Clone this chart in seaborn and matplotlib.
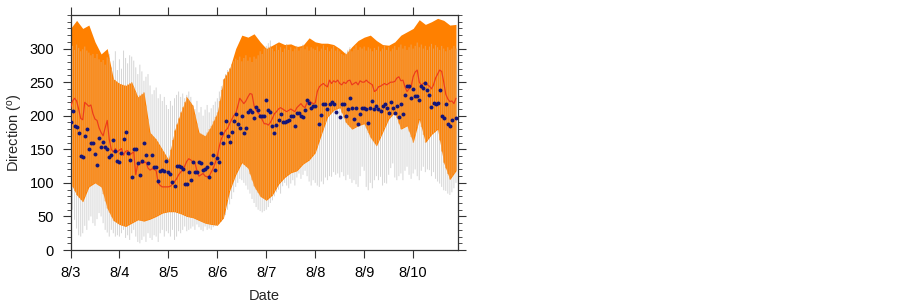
import numpy as np
import matplotlib
matplotlib.use("Agg")
import matplotlib.pyplot as plt
import seaborn as sns

nan = np.nan

# ---------------- data (hours since 8/3 00:00) ----------------
day_labels = ["8/3", "8/4", "8/5", "8/6", "8/7", "8/8", "8/9", "8/10"]
day_ticks = [0, 24, 48, 72, 96, 120, 144, 168]
y_ticks = [0, 50, 100, 150, 200, 250, 300]

hours = list(range(190))
band_hours = list(range(0, 190, 3))

# orange band (3-hourly)
band_hi = [330, 342, 330, 335, 310, 292, 300, 255, 248, 245,
           250, 228, 235, 175, 165, 150, 135, 178, 205, 228,
           215, 175, 170, 185, 205, 255, 270, 300, 320, 317,
           322, 310, 300, 305, 310, 306, 307, 303, 305, 316,
           310, 308, 308, 306, 300, 292, 303, 312, 317, 320,
           312, 306, 305, 310, 320, 325, 330, 343, 336, 340,
           345, 342, 335, 336]
band_lo = [100, 82, 72, 94, 100, 94, 62, 44, 38, 35,
           40, 45, 43, 46, 50, 55, 57, 57, 54, 50,
           48, 44, 40, 38, 37, 48, 88, 112, 130, 122,
           95, 80, 74, 82, 98, 108, 115, 118, 128, 134,
           145, 172, 198, 208, 212, 190, 180, 185, 188, 168,
           155, 175, 195, 205, 180, 185, 160, 195, 160, 172,
           180, 130, 105, 118]

# hourly spread (gray vertical lines)
spread_hi = [300, 304, 298, 306, 301, 296, 299, 303, 297, 294, 290, 292,
             286, 292, 284, 280, 283, 276, 287, 292, 272, 282, 296, 268,
             284, 270, 297, 286, 278, 290, 288, 282, 272, 262, 276, 266,
             252, 258, 262, 245, 232, 238, 242, 226, 232, 222, 228, 216,
             210, 222, 215, 226, 231, 236, 228, 233, 226, 231, 236, 228,
             216, 210, 222, 205, 213, 200, 209, 216, 205, 211, 216, 221,
             226, 236, 244, 254, 262, 268, 271, 276, 281, 285, 283, 288,
             281, 286, 290, 282, 287, 280, 288, 285, 290, 296, 292, 300,
             304, 308, 312, 300, 296, 305, 298, 302, 295, 300, 306, 298,
             302, 296, 300, 304, 297, 301, 306, 299, 303, 297, 302, 300,
             298, 303, 296, 300, 305, 298, 302, 296, 300, 304, 297, 300,
             296, 292, 290, 294, 298, 302, 296, 300, 305, 298, 302, 300,
             303, 297, 302, 300, 296, 301, 298, 303, 296, 300, 305, 298,
             302, 296, 300, 304, 298, 302, 306, 300, 304, 298, 302, 306,
             300, 304, 309, 302, 306, 300, 304, 298, 303, 307, 300, 305,
             302, 298, 304, 300, 296, 302, 298, 300, 304, 300]
spread_lo = [85, 60, 45, 32, 22, 20, 25, 36, 30, 44, 50, 40,
             36, 46, 55, 50, 40, 30, 26, 20, 30, 25, 20, 22,
             20, 25, 30, 18, 22, 15, 25, 30, 20, 12, 10, 15,
             20, 12, 25, 18, 15, 22, 20, 12, 25, 30, 20, 28,
             25, 20, 30, 15, 20, 28, 25, 30, 35, 28, 30, 32,
             35, 30, 38, 34, 30, 28, 35, 30, 32, 30, 34, 36,
             36, 40, 42, 46, 52, 60, 68, 76, 86, 94, 100, 106,
             104, 100, 96, 90, 84, 76, 70, 64, 60, 58, 56, 58,
             60, 64, 70, 74, 80, 86, 90, 84, 95, 100, 96, 92,
             99, 104, 96, 108, 114, 106, 112, 118, 110, 102, 96, 104,
             100, 96, 94, 102, 98, 108, 104, 110, 109, 116, 112, 114,
             108, 116, 110, 104, 112, 106, 100, 104, 98, 94, 110, 124,
             118, 94, 89, 100, 92, 104, 110, 104, 109, 96, 100, 99,
             112, 122, 129, 108, 104, 110, 114, 104, 118, 124, 112, 106,
             114, 120, 110, 104, 118, 124, 116, 120, 119, 110, 116, 106,
             102, 99, 94, 89, 88, 84, 82, 86, 92, 100]

# ensemble mean (red line)
mean_dir = [211, 222, 226, 222, 210, 196, 194, 220, 217, 214,
            216, 203, 195, 193, 182, 175, 170, 182, 193, 165,
            150, 146, 151, 146, 149, 151, 141, 147, 148, 141,
            144, 146, 112, 128, 131, 129, 130, 131, 122, 119,
            121, 120, 118, 100, 96, 94, 94, 94, 94, 95,
            98, 102, 106, 112, 116, 119, 125, 132, 136, 134,
            131, 130, 118, 110, 112, 114, 110, 109, 110, 116,
            122, 130, 140, 155, 166, 172, 178, 181, 188, 194,
            200, 203, 214, 226, 222, 218, 222, 228, 233, 232,
            215, 208, 204, 201, 194, 188, 188, 186, 190, 196,
            203, 206, 210, 212, 210, 208, 206, 208, 210, 208,
            206, 212, 215, 218, 214, 212, 220, 223, 220, 218,
            219, 236, 243, 246, 248, 245, 243, 253, 248, 252,
            250, 253, 248, 246, 250, 248, 252, 253, 246, 248,
            250, 246, 252, 250, 250, 253, 250, 248, 246, 236,
            238, 243, 244, 246, 248, 246, 248, 250, 250, 251,
            256, 258, 252, 253, 243, 236, 240, 243, 258, 265,
            268, 250, 246, 248, 250, 246, 244, 240, 246, 256,
            262, 268, 266, 250, 232, 225, 221, 222, 218, 226]

# observations (navy dots)
obs_dir = [190, 207, 185, 183, 174, 140, 138, 170, 180, 150,
           160, 160, 143, 127, 167, 154, 161, 154, 150, 138,
           141, 164, 147, 133, 131, 145, 165, 176, 145, 134,
           108, 150, 150, 130, 111, 133, 159, 141, 130, nan,
           141, 123, 123, 103, 117, 119, 117, 132, 116, 113,
           102, 95, 125, 125, 124, 121, 98, 99, 116, 104,
           131, 116, 116, 131, 129, 119, 120, 123, 108, 130,
           141, 119, 137, 131, 175, 160, 192, 170, 161, 176,
           192, 202, 187, 181, 200, 174, 182, 205, 209, 206,
           197, 213, 209, 200, 200, 200, 223, 209, 206, 185,
           175, 186, 193, 202, 191, 191, 192, 194, 200, 199,
           185, 204, 204, 199, 198, 209, 223, 219, 211, 215,
           214, nan, 188, 201, 218, 218, 210, 217, 221, 217,
           205, nan, 198, 217, 218, 200, 210, 227, 211, 195,
           212, 187, 202, 212, 212, 210, 189, 211, 222, 210,
           214, 210, 207, 215, 217, 211, 204, 221, 212, 204,
           215, 198, 217, 202, 231, 245, 245, 227, 240, 229,
           230, 224, 244, 241, 248, 239, 231, 213, 219, 217,
           219, 239, 200, 196, 218, 187, 185, 194, nan, 196]

# ---------------- style ----------------
sns.set_style("ticks")
plt.rcParams["font.family"] = ["Liberation Sans", "DejaVu Sans"]
plt.rcParams["mathtext.fontset"] = "custom"
plt.rcParams["mathtext.rm"] = "Liberation Sans"
plt.rcParams["mathtext.it"] = "Liberation Sans"

fig = plt.figure(figsize=(9.02, 3.03), dpi=100)
ax = fig.add_axes([70.5 / 902, 1 - 250 / 303, (458 - 70.5) / 902, (250 - 15) / 303])

h = np.array(hours)
s_hi = np.array(spread_hi, dtype=float)
s_lo = np.array(spread_lo, dtype=float)
bh = np.array(band_hours)
b_hi = np.array(band_hi, dtype=float)
b_lo = np.array(band_lo, dtype=float)

px = 0.72  # one pixel in points

# gray spread lines
gl = ax.vlines(h, s_lo, s_hi, colors="#D6D6D6", linewidth=1.0 * px, zorder=1)
gl.set_snap(False)
# orange band
ax.fill_between(bh, b_lo, b_hi, color="#FF8000", linewidth=0, zorder=2)
# spread lines seen through the band
b_hi_h = np.interp(h, bh, b_hi)
b_lo_h = np.interp(h, bh, b_lo)
top = np.minimum(s_hi, b_hi_h)
bot = np.maximum(s_lo, b_lo_h)
ok = top > bot
ol = ax.vlines(h[ok], bot[ok], top[ok], colors="#EFA050", linewidth=1.0 * px, zorder=3)
ol.set_snap(False)

# mean line
sns.lineplot(x=hours, y=mean_dir, ax=ax, color="#EC3A1C", linewidth=0.85, zorder=4)
# observations
sns.scatterplot(x=hours, y=obs_dir, ax=ax, color="#14157A", s=8, linewidth=0, zorder=5)

ax.set_xlim(0, 190)
ax.set_ylim(0, 350)
ax.set_xticks(day_ticks)
ax.set_xticklabels(day_labels)
ax.set_yticks(y_ticks)
ax.set_yticks(np.arange(0, 351, 10), minor=True)
ax.tick_params(axis="both", which="major", direction="out", length=5.8, width=0.8,
               labelsize=10.5, pad=6, colors="#333333", labelcolor="black")
ax.tick_params(axis="y", which="minor", direction="out", length=2.9, width=0.6,
               colors="#333333")
ax.tick_params(top=True, right=True, which="major")
ax.tick_params(axis="y", right=True, which="minor")
ax.tick_params(axis="x", which="minor", bottom=False, top=False)

for sp in ax.spines.values():
    sp.set_color("#333333")
    sp.set_linewidth(0.9)

ax.set_xlabel("Date", fontsize=10.5, labelpad=6)
ax.set_ylabel(r"Direction ($^{\mathrm{o}}$)", fontsize=10.5, labelpad=3)

fig.savefig("out.png", dpi=100)
